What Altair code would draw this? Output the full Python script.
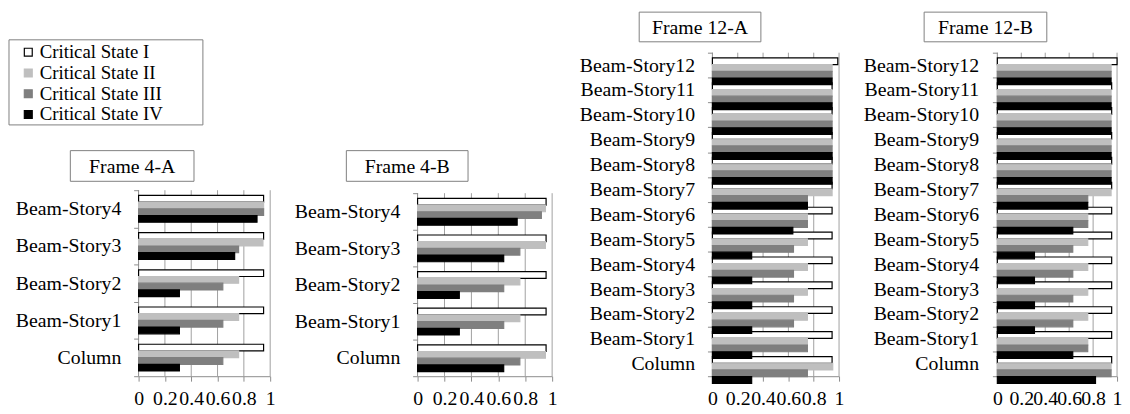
import altair as alt
import pandas as pd

states = ["Critical State I", "Critical State II", "Critical State III", "Critical State IV"]
fill_colors = ["#ffffff", "#bfbfbf", "#7f7f7f", "#000000"]
stroke_colors = ["#000000", "#bfbfbf", "#7f7f7f", "#000000"]

cats_4 = ["Beam-Story4", "Beam-Story3", "Beam-Story2", "Beam-Story1", "Column"]
cats_12 = ["Beam-Story12", "Beam-Story11", "Beam-Story10", "Beam-Story9", "Beam-Story8",
           "Beam-Story7", "Beam-Story6", "Beam-Story5", "Beam-Story4", "Beam-Story3",
           "Beam-Story2", "Beam-Story1", "Column"]

frame_titles = ["Frame 4-A", "Frame 4-B", "Frame 12-A", "Frame 12-B"]
x_ticks = [0, 0.2, 0.4, 0.6, 0.8, 1]
grid_ticks = [0.2, 0.4, 0.6, 0.8, 1]

# Frame 4-A
f4a_s1 = [0.95, 0.95, 0.95, 0.95, 0.95]
f4a_s2 = [0.95, 0.945, 0.76, 0.76, 0.76]
f4a_s3 = [0.95, 0.76, 0.64, 0.64, 0.64]
f4a_s4 = [0.90, 0.73, 0.31, 0.31, 0.31]

# Frame 4-B
f4b_s1 = [0.955, 0.955, 0.955, 0.955, 0.955]
f4b_s2 = [0.95, 0.95, 0.76, 0.76, 0.95]
f4b_s3 = [0.92, 0.76, 0.64, 0.64, 0.76]
f4b_s4 = [0.74, 0.64, 0.31, 0.31, 0.64]

# Frame 12-A
f12a_s1 = [0.99, 0.945, 0.945, 0.945, 0.945, 0.945, 0.945, 0.945, 0.945, 0.945, 0.945, 0.945, 0.945]
f12a_s2 = [0.945, 0.945, 0.945, 0.945, 0.945, 0.945, 0.75, 0.75, 0.75, 0.75, 0.75, 0.75, 0.95]
f12a_s3 = [0.945, 0.945, 0.945, 0.945, 0.945, 0.75, 0.75, 0.64, 0.64, 0.64, 0.64, 0.75, 0.75]
f12a_s4 = [0.945, 0.945, 0.945, 0.945, 0.945, 0.75, 0.635, 0.31, 0.31, 0.31, 0.31, 0.31, 0.31]

# Frame 12-B
f12b_s1 = [1.0, 0.955, 0.955, 0.955, 0.955, 0.955, 0.955, 0.955, 0.955, 0.955, 0.955, 0.955, 0.955]
f12b_s2 = [0.95, 0.95, 0.95, 0.95, 0.95, 0.95, 0.755, 0.755, 0.755, 0.755, 0.755, 0.755, 0.95]
f12b_s3 = [0.95, 0.95, 0.95, 0.95, 0.95, 0.755, 0.755, 0.63, 0.63, 0.63, 0.63, 0.755, 0.95]
f12b_s4 = [0.95, 0.95, 0.95, 0.95, 0.95, 0.755, 0.63, 0.31, 0.31, 0.31, 0.31, 0.63, 0.82]

FONT = "Liberation Serif"
GRID = "#a0a0a0"
AXISC = "#8c8c8c"
H = 327  # common plot height (Frame 12); the 4-storey frames use its lower part


def x_axis():
    return alt.Axis(values=x_ticks, format="~g", title=None, grid=False,
                    domainColor=AXISC, tickColor=AXISC, tickSize=5,
                    labelFont=FONT, labelFontSize=20, labelColor="black",
                    labelOverlap=False, labelFlush=False, labelPadding=8)


def frame_panel(cats, series, title, W, top, lab_pad, box, cell,
                legend=False, legend_box=None):
    rows = []
    for st, vals in zip(states, series):
        for c, v in zip(cats, vals):
            rows.append({"category": c, "state": st, "value": v})
    df = pd.DataFrame(rows)

    if legend:
        leg = alt.Legend(orient="none", legendX=-121, legendY=-10, title=None,
                         direction="vertical", labelFont=FONT, labelFontSize=19,
                         labelColor="black", symbolType="square", symbolSize=64,
                         symbolStrokeWidth=1.2, labelOffset=2, rowPadding=1,
                         padding=0, labelLimit=0)
    else:
        leg = None

    xscale = alt.Scale(domain=[0, 1], nice=False, zero=True)

    bars = alt.Chart(df).mark_bar(strokeWidth=1.2).encode(
        x=alt.X("value:Q", scale=xscale, axis=x_axis()),
        y=alt.Y("category:N", sort=cats,
                scale=alt.Scale(range=[top, H], paddingInner=0, paddingOuter=0),
                axis=alt.Axis(title=None, tickBand="extent", grid=False, domain=False,
                              tickColor=AXISC, tickSize=5,
                              labelFont=FONT, labelFontSize=20, labelColor="black",
                              labelPadding=lab_pad, labelLimit=0)),
        yOffset=alt.YOffset("state:N", sort=states,
                            scale=alt.Scale(paddingInner=0, paddingOuter=0.78)),
        fill=alt.Fill("state:N", scale=alt.Scale(domain=states, range=fill_colors), legend=leg),
        stroke=alt.Stroke("state:N", scale=alt.Scale(domain=states, range=stroke_colors), legend=leg),
    )

    grid = alt.Chart(pd.DataFrame({"tick": grid_ticks})).mark_rule(
        color=GRID, strokeWidth=1).encode(
        x=alt.X("tick:Q", scale=xscale, axis=x_axis()), y=alt.value(top), y2=alt.value(H))

    one = pd.DataFrame({"title": [title]})
    y_domain = alt.Chart(one).mark_rule(color=AXISC, strokeWidth=1).encode(
        x=alt.value(0), y=alt.value(top), y2=alt.value(H))
    cell_rect = alt.Chart(one).mark_rect(fill="white", fillOpacity=0, strokeOpacity=0).encode(
        x=alt.value(cell[0]), x2=alt.value(cell[1]),
        y=alt.value(cell[2]), y2=alt.value(cell[3]))
    box_rect = alt.Chart(one).mark_rect(fill="white", stroke="#808080", strokeWidth=1).encode(
        x=alt.value(box[0]), x2=alt.value(box[1]),
        y=alt.value(box[2]), y2=alt.value(box[3]))
    box_text = alt.Chart(one).mark_text(font=FONT, fontSize=20, align="center",
                                        baseline="middle", color="black").encode(
        x=alt.value((box[0] + box[1]) / 2), y=alt.value((box[2] + box[3]) / 2 + 1),
        text="title:N")

    layers = [cell_rect, box_rect, box_text]
    if legend_box is not None:
        layers.append(alt.Chart(one).mark_rect(fill="white", stroke="#808080", strokeWidth=1).encode(
            x=alt.value(legend_box[0]), x2=alt.value(legend_box[1]),
            y=alt.value(legend_box[2]), y2=alt.value(legend_box[3])))
    layers += [grid, y_domain, bars]
    return alt.layer(*layers).properties(width=W, height=H)


p1 = frame_panel(cats_4, [f4a_s1, f4a_s2, f4a_s3, f4a_s4], frame_titles[0], 133, 139, 13,
                 box=(-69, 56, 99, 130), cell=(-131, 142, -41, H),
                 legend=True, legend_box=(-131, 65, -13, 73))
p2 = frame_panel(cats_4, [f4b_s1, f4b_s2, f4b_s3, f4b_s4], frame_titles[1], 136, 142, 13,
                 box=(-72, 51, 99, 130), cell=(-140, 147, -41, H))
p3 = frame_panel(cats_12, [f12a_s1, f12a_s2, f12a_s3, f12a_s4], frame_titles[2], 128, 0, 13,
                 box=(-74, 49, -41, -11), cell=(-151, 138, -41, H))
p4 = frame_panel(cats_12, [f12b_s1, f12b_s2, f12b_s3, f12b_s4], frame_titles[3], 121, 0, 14,
                 box=(-74, 50, -41, -11), cell=(-150, 121, -41, H))

chart = alt.hconcat(p1, p2, p3, p4, spacing=0).resolve_scale(
    fill="independent", stroke="independent"
).properties(
    padding={"left": 0, "top": 1, "right": 0, "bottom": 0}
).configure(font=FONT, background="white").configure_view(stroke=None)

chart.save("out.html", embed_options={"renderer": "svg", "actions": False})
